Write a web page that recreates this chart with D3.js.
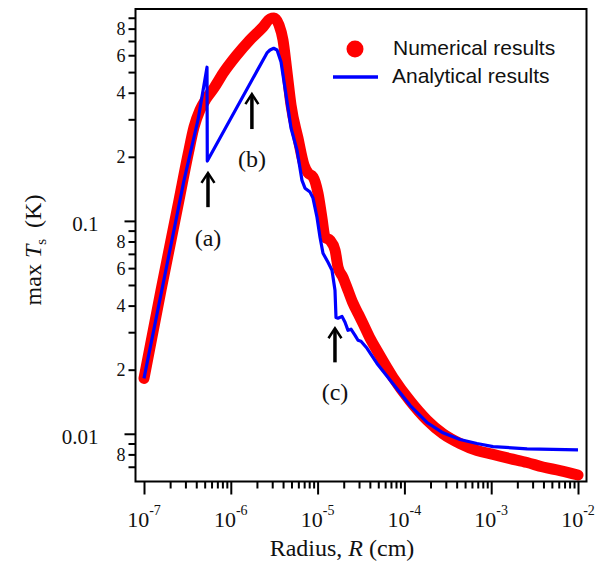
<!DOCTYPE html>
<html>
<head>
<meta charset="utf-8">
<script src="https://cdn.jsdelivr.net/npm/d3@7"></script>
<style>
  html, body { margin: 0; padding: 0; background: #fff; }
  svg { display: block; }
</style>
</head>
<body>
<svg id="chart" width="605" height="566"></svg>
<script>
// ---------- data ----------
const numR = [1.0e-7, 1.57e-7, 2.53e-7, 3.21e-7, 3.77e-7, 4.42e-7, 5.18e-7, 6.40e-7, 8.35e-7, 1.148e-6,
  1.66e-6, 2.35e-6, 2.83e-6, 3.15e-6, 3.59e-6, 3.99e-6, 4.44e-6, 4.94e-6, 5.94e-6, 6.97e-6,
  7.75e-6, 8.85e-6, 1.01e-5, 1.12e-5, 1.22e-5, 1.39e-5, 1.59e-5, 1.72e-5, 1.96e-5, 2.24e-5,
  2.56e-5, 2.92e-5, 3.33e-5, 4.02e-5, 4.83e-5, 7.39e-5, 1.16e-4, 1.82e-4, 2.78e-4, 4.37e-4,
  6.86e-4, 1.05e-3, 1.65e-3, 2.59e-3, 3.95e-3, 6.20e-3, 1.0e-2];
const numT = [0.0182, 0.0472, 0.125, 0.204, 0.276, 0.332, 0.374, 0.421, 0.501, 0.595,
  0.708, 0.815, 0.889, 0.898, 0.833, 0.708, 0.501, 0.350, 0.245, 0.183,
  0.168, 0.161, 0.135, 0.104, 0.0838, 0.0811, 0.0728, 0.0606, 0.0543, 0.0472,
  0.0410, 0.0368, 0.0330, 0.0281, 0.0246, 0.0184, 0.0143, 0.0116, 0.0100, 0.0090,
  0.00834, 0.0080, 0.00765, 0.00733, 0.00698, 0.00672, 0.0064];

const anaR = [1.0e-7, 2.89e-7, 4.19e-7, 5.32e-7, 5.36e-7, 2.61e-6, 2.83e-6, 3.12e-6, 3.41e-6, 3.79e-6,
  4.33e-6, 4.94e-6, 5.79e-6, 6.61e-6, 7.16e-6, 8.18e-6, 8.85e-6, 9.84e-6, 1.066e-5, 1.154e-5,
  1.318e-5, 1.465e-5, 1.586e-5, 1.629e-5, 1.718e-5, 1.91e-5, 2.07e-5, 2.24e-5, 2.425e-5, 2.70e-5,
  2.92e-5, 3.16e-5, 3.71e-5, 4.83e-5, 7.39e-5, 1.16e-4, 1.82e-4, 2.78e-4, 4.37e-4, 6.86e-4,
  1.05e-3, 2.59e-3, 1.0e-2];
const anaT = [0.0182, 0.155, 0.298, 0.527, 0.191, 0.615, 0.635, 0.647, 0.635, 0.558,
  0.390, 0.273, 0.215, 0.155, 0.1425, 0.1365, 0.128, 0.104, 0.0838, 0.0705,
  0.0639, 0.0586, 0.0472, 0.0352, 0.0349, 0.0356, 0.0334, 0.0306, 0.0310, 0.0290,
  0.0275, 0.0272, 0.0252, 0.0214, 0.0172, 0.0136, 0.0113, 0.0101, 0.0094, 0.0090,
  0.0087, 0.0085, 0.0084];

const seriesNames = ["Numerical results", "Analytical results"];
const xMajorTicks = [1e-7, 1e-6, 1e-5, 1e-4, 1e-3, 1e-2];
const xMajorExp = ["-7", "-6", "-5", "-4", "-3", "-2"];
const yMajorTicks = [0.01, 0.1];
const yMajorLabels = ["0.01", "0.1"];

// annotations (a), (b), (c)
const annText = ["(a)", "(b)", "(c)"];
const annR = [5.46e-7, 1.75e-6, 1.585e-5];
const annTipT = [0.168, 0.394, 0.0313];
const annTailT = [0.116, 0.270, 0.02165];
const annLabelT = [0.076, 0.179, 0.01435];

// ---------- chart ----------
const svg = d3.select("#chart");
const SERIF = "'Liberation Serif', 'Times New Roman', serif";
const SANS = "'Liberation Sans', Arial, sans-serif";

const x = d3.scaleLog().domain([1e-7, 1e-2]).range([144, 578]);
const y = d3.scaleLog().domain([0.006, 1]).range([481, 8]);

const frame = {left: 135.5, right: 586.5, top: 9, bottom: 481.5};

// minor tick values
const xMinor = [];
for (let e = -7; e < -2; e++) for (let m = 2; m <= 9; m++) xMinor.push(m * Math.pow(10, e));
const yMinor = [];
for (let e = -3; e <= -1; e++) for (let m = 2; m <= 9; m++) {
  const v = m * Math.pow(10, e);
  if (v > 0.0061 && v < 0.99) yMinor.push(v);
}

const numData = numR.map((r, i) => [r, numT[i]]);
const anaData = anaR.map((r, i) => [r, anaT[i]]);

const gPlot = svg.append("g");
gPlot.append("path")
  .attr("d", d3.line().x(d => x(d[0])).y(d => y(d[1])).curve(d3.curveMonotoneX)(numData))
  .attr("fill", "none").attr("stroke", "#ff0000").attr("stroke-width", 11)
  .attr("stroke-linecap", "round").attr("stroke-linejoin", "round");
gPlot.append("path")
  .attr("d", d3.line().x(d => x(d[0])).y(d => y(d[1]))(anaData))
  .attr("fill", "none").attr("stroke", "#0000ff").attr("stroke-width", 3.2)
  .attr("stroke-linejoin", "round");

// frame
svg.append("rect")
  .attr("x", frame.left).attr("y", frame.top)
  .attr("width", frame.right - frame.left).attr("height", frame.bottom - frame.top)
  .attr("fill", "none").attr("stroke", "#000").attr("stroke-width", 2);

// x axis
const xMinorAxis = svg.append("g").attr("transform", `translate(0,${frame.bottom})`)
  .call(d3.axisBottom(x).tickValues(xMinor).tickSize(7).tickFormat(""));
const xMajorAxis = svg.append("g").attr("transform", `translate(0,${frame.bottom})`)
  .call(d3.axisBottom(x).tickValues(xMajorTicks).tickSize(13).tickFormat(""));
[xMinorAxis, xMajorAxis].forEach(g => {
  g.select(".domain").remove();
  g.selectAll(".tick line").attr("stroke", "#000").attr("stroke-width", 2);
});
const xl = svg.append("g").selectAll("text").data(xMajorTicks).join("text")
  .attr("x", d => x(d)).attr("y", 527)
  .attr("text-anchor", "middle")
  .attr("font-family", SERIF).attr("font-size", 22).attr("fill", "#111");
xl.append("tspan").text("10");
xl.append("tspan").attr("dy", -12).attr("font-size", 14).text((d, i) => xMajorExp[i]);

// y axis
const yMinorAxis = svg.append("g").attr("transform", `translate(${frame.left},0)`)
  .call(d3.axisLeft(y).tickValues(yMinor).tickSize(7).tickPadding(3)
    .tickFormat(d => {
      const m = Math.round(d / Math.pow(10, Math.floor(Math.log10(d) + 1e-9)));
      return (m % 2 === 0) ? String(m) : "";
    }));
const yMajorAxis = svg.append("g").attr("transform", `translate(${frame.left},0)`)
  .call(d3.axisLeft(y).tickValues(yMajorTicks).tickSize(11).tickPadding(26)
    .tickFormat((d, i) => yMajorLabels[i]));
[yMinorAxis, yMajorAxis].forEach(g => {
  g.select(".domain").remove();
  g.selectAll(".tick line").attr("stroke", "#000").attr("stroke-width", 2);
  g.selectAll(".tick text").attr("font-family", SERIF).attr("fill", "#111");
});
yMinorAxis.selectAll(".tick text").attr("font-size", 18).attr("dy", "0.34em");
yMajorAxis.selectAll(".tick text").attr("font-size", 21).attr("dy", "0.45em");

// axis titles
const xt = svg.append("text").attr("x", 342).attr("y", 556)
  .attr("text-anchor", "middle").attr("font-family", SERIF).attr("font-size", 24).attr("fill", "#111");
xt.append("tspan").text("Radius, ");
xt.append("tspan").attr("font-style", "italic").text("R");
xt.append("tspan").text(" (cm)");

const yt = svg.append("text").attr("transform", "translate(41,250) rotate(-90)")
  .attr("text-anchor", "middle").attr("font-family", SERIF).attr("font-size", 24).attr("fill", "#111");
yt.append("tspan").text("max ");
yt.append("tspan").attr("font-style", "italic").text("T");
yt.append("tspan").attr("font-size", 15).attr("dy", 5).text("s");
yt.append("tspan").attr("dy", -5).attr("dx", 5).text(" (K)");

// annotations
const ann = svg.append("g");
annText.forEach((t, i) => {
  const ax = x(annR[i]), tip = y(annTipT[i]), tail = y(annTailT[i]);
  ann.append("line").attr("x1", ax).attr("x2", ax).attr("y1", tail).attr("y2", tip + 1)
    .attr("stroke", "#000").attr("stroke-width", 3.5);
  ann.append("path")
    .attr("d", `M${ax - 6.5},${tip + 10} L${ax},${tip} L${ax + 6.5},${tip + 10}`)
    .attr("fill", "none").attr("stroke", "#000").attr("stroke-width", 2.5)
    .attr("stroke-linejoin", "miter");
  ann.append("text").attr("x", ax).attr("y", y(annLabelT[i]))
    .attr("text-anchor", "middle").attr("font-family", SERIF).attr("font-size", 24)
    .attr("fill", "#111").text(t);
});

// legend
const lg = svg.append("g");
lg.append("circle").attr("cx", 355).attr("cy", 49).attr("r", 8.5).attr("fill", "#ff0000");
lg.append("line").attr("x1", 333).attr("x2", 378).attr("y1", 77).attr("y2", 77)
  .attr("stroke", "#0000ff").attr("stroke-width", 3.5);
lg.append("text").attr("x", 393).attr("y", 55).attr("font-family", SANS).attr("font-size", 21)
  .attr("fill", "#111").text(seriesNames[0]);
lg.append("text").attr("x", 392).attr("y", 83).attr("font-family", SANS).attr("font-size", 21)
  .attr("fill", "#111").text(seriesNames[1]);
</script>
</body>
</html>
